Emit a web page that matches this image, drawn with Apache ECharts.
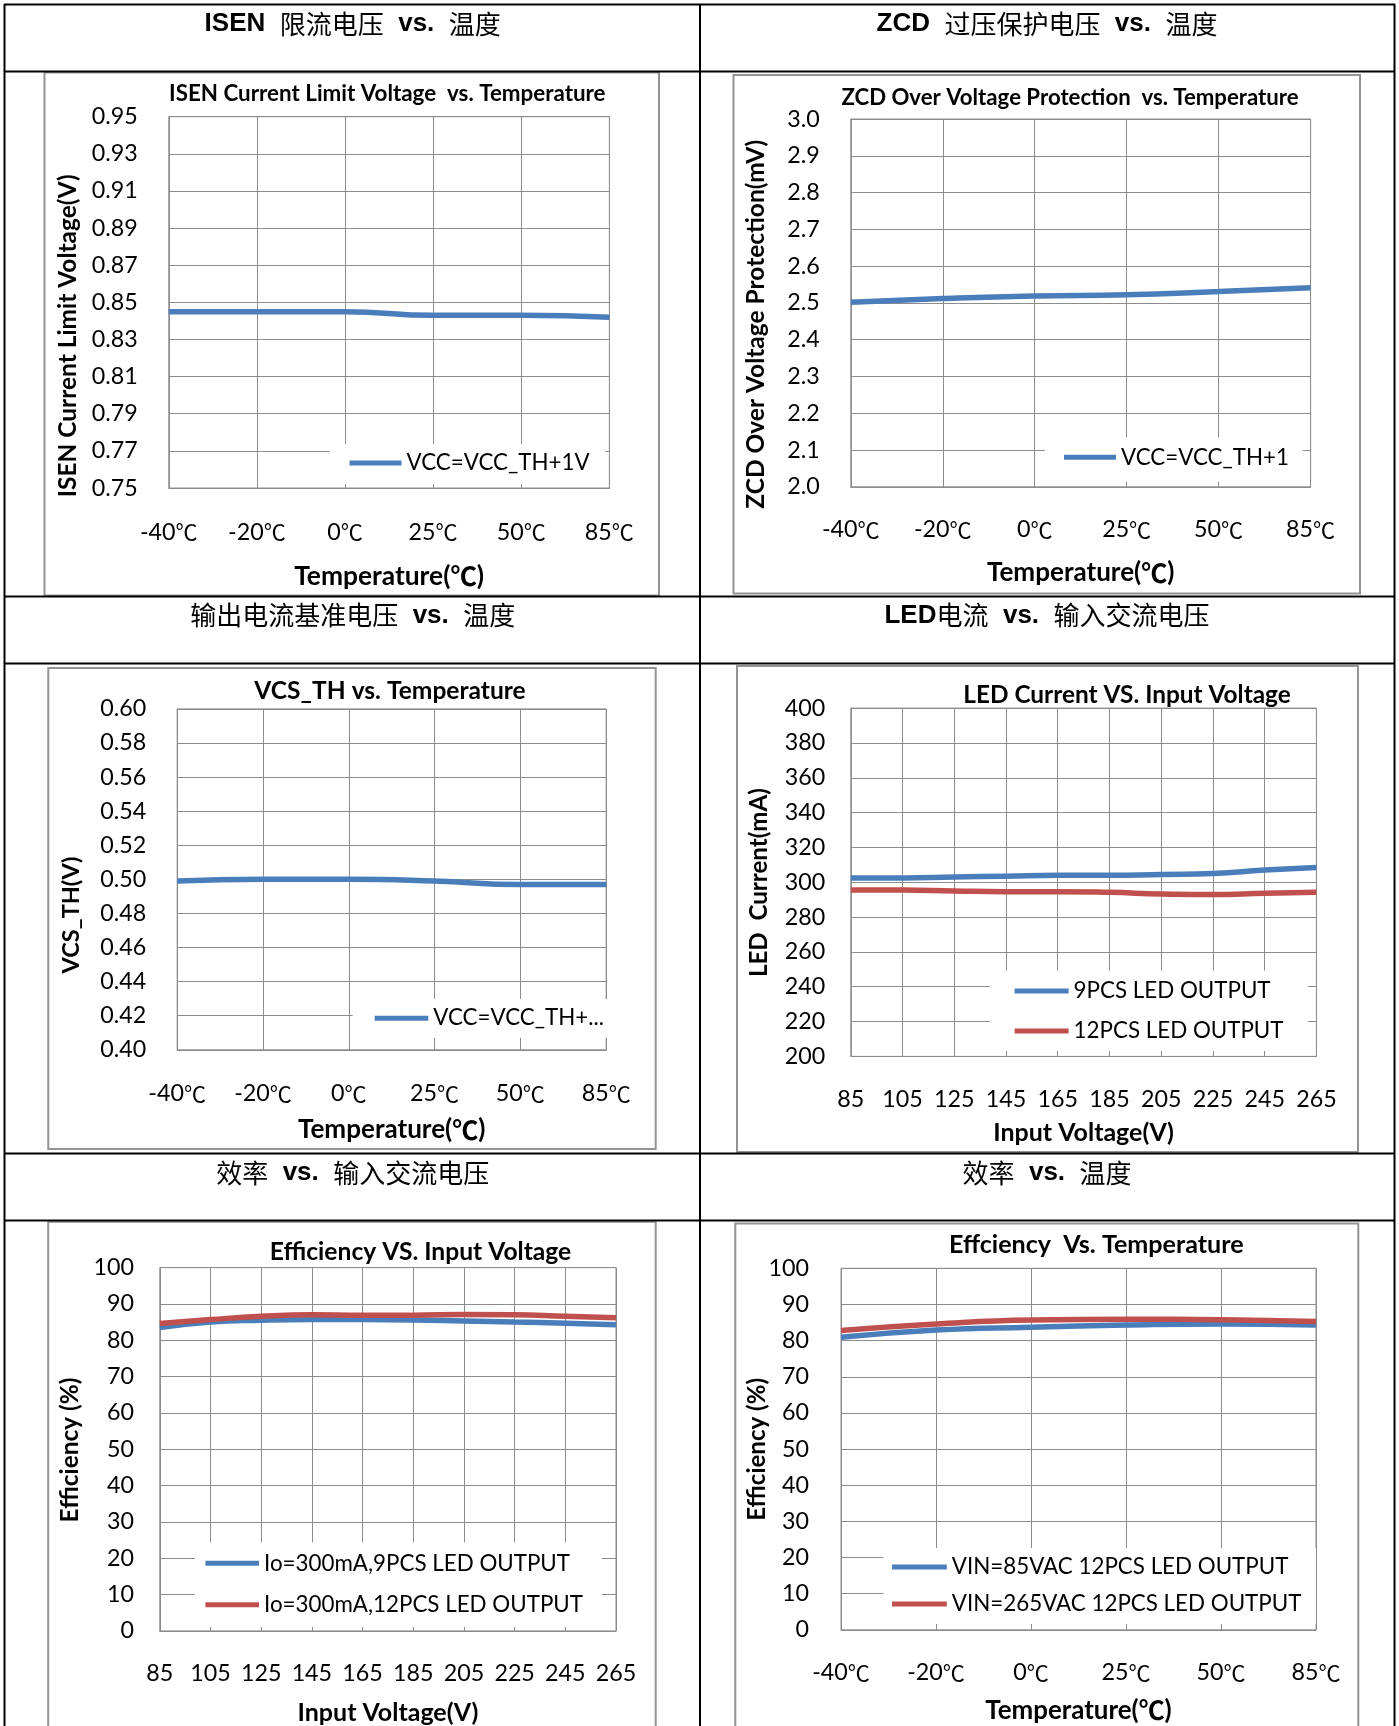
<!DOCTYPE html>
<html><head><meta charset="utf-8">
<script src="https://cdn.jsdelivr.net/npm/echarts@6/dist/echarts.min.js"></script>
<style>html,body{margin:0;padding:0;background:#fff}#c{width:1399px;height:1726px}</style>
</head><body><div id="c"></div>
<script>
// ---------- data ----------
const tempCats = ['-40℃', '-20℃', '0℃', '25℃', '50℃', '85℃'];
const vinCats = ['85', '105', '125', '145', '165', '185', '205', '225', '245', '265'];
const isenVals = [0.845, 0.845, 0.845, 0.843, 0.843, 0.842];
const zcdVals = [2.502, 2.512, 2.519, 2.522, 2.531, 2.541];
const vcsVals = [0.499, 0.500, 0.500, 0.499, 0.497, 0.497];
const led9Vals = [302.5, 302.5, 303, 303.5, 304, 304, 304.5, 305, 307, 308.5];
const led12Vals = [295.6, 295.6, 295, 294.6, 294.6, 294.2, 293.3, 292.9, 293.7, 294.3];
const effVin9Vals = [83.5, 85, 85.5, 85.7, 85.7, 85.6, 85.3, 85, 84.7, 84.3];
const effVin12Vals = [84.6, 85.7, 86.6, 87, 86.9, 86.9, 87.1, 87, 86.6, 86.2];
const effT85Vals = [80.9, 82.9, 83.7, 84.3, 84.6, 84.3];
const effT265Vals = [82.8, 84.6, 85.7, 85.9, 85.8, 85.3];

// ---------- styling helpers ----------
const LF = 'Lato, "Noto Sans CJK SC", sans-serif';
const CJK = '"Noto Sans CJK SC", sans-serif';
const GRID = '#8c8c8c';
const BLUE = '#4a7ebb';
const RED = '#c0504d';
const cv = document.createElement('canvas').getContext('2d');
function fit(text, weight, target) {
  cv.font = weight + ' 100px ' + LF;
  return 100 * target / cv.measureText(text).width;
}
const tickFS = fit('0.95', 'normal', 46);
const legFS = fit('9PCS LED OUTPUT', 'normal', 197);

const grids = [
  [168.75, 116.7, 440.65, 371.3],
  [850.8, 119, 459.8, 367.8],
  [177.2, 708.9, 429, 340.9],
  [850.8, 708.1, 465.6, 348.3],
  [159.8, 1267.6, 456.2, 364.8],
  [841, 1268.3, 475, 361.5]
];

function degFmt(v) {
  if (v.indexOf('℃') < 0) return '{n|' + v + '}';
  return '{n|' + v.replace('℃', '') + '}{d|℃}';
}
function xAx(gi, data, margin, name, nameCenter, nameW) {
  const nfs = fit(name, 'bold', nameW);
  const richName = name.indexOf('℃') >= 0 ? name.replace('℃', '{d|℃}') : name;
  return {
    type: 'category', gridIndex: gi, data: data, boundaryGap: false,
    axisLine: {show: true, lineStyle: {color: GRID, width: 1}},
    axisTick: {show: false},
    axisLabel: {interval: 0, margin: margin, color: '#000', fontFamily: LF, fontSize: tickFS, lineHeight: 24,
      formatter: degFmt,
      rich: {n: {fontFamily: LF, fontSize: tickFS, color: '#000', lineHeight: 24},
             d: {fontFamily: CJK, fontSize: tickFS * 0.95, color: '#000', lineHeight: 24}}},
    splitLine: {show: true, lineStyle: {color: GRID, width: 1}},
    name: richName, nameLocation: 'middle', nameGap: nameCenter - 12,
    nameTextStyle: {fontFamily: LF, fontWeight: 'bold', fontSize: nfs, lineHeight: 24, color: '#000',
      rich: {d: {fontFamily: CJK, fontWeight: 'bold', fontSize: nfs, lineHeight: 24, color: '#000'}}}
  };
}
function yAx(gi, min, max, interval, dec, margin) {
  return {
    type: 'value', gridIndex: gi, min: min, max: max, interval: interval,
    axisLine: {show: true, lineStyle: {color: GRID, width: 1}},
    axisTick: {show: false},
    axisLabel: {margin: margin, color: '#000', fontFamily: LF, fontSize: tickFS, formatter: v => v.toFixed(dec)},
    splitLine: {show: true, lineStyle: {color: GRID, width: 1}}
  };
}
function ser(name, gi, data, color) {
  return {type: 'line', name: name, xAxisIndex: gi, yAxisIndex: gi, data: data, smooth: true,
    symbol: 'none', lineStyle: {width: 5.5, color: color}, itemStyle: {color: color}, z: 3};
}
function leg(left, top, w, pl, pt, pb, gap, itemW, names) {
  const pr = 4;
  return {
    show: true, orient: 'vertical', left: left, top: top, padding: [pt, pr, pb, pl],
    itemGap: gap, itemWidth: itemW, itemHeight: 5, icon: 'rect', backgroundColor: '#fff',
    selectedMode: false, data: names, z: 5,
    textStyle: {fontFamily: LF, fontSize: legFS, lineHeight: 24, color: '#000', width: w - pl - itemW - 5 - pr}
  };
}

// ---------- graphic (table, boxes, titles) ----------
const g = [];
[4.5, 71.5, 596.5, 663.5, 1153.5, 1220.5].forEach(y => g.push({type: 'line', shape: {x1: 4, y1: y, x2: 1395, y2: y}, style: {stroke: '#000', lineWidth: 2}, z: 10}));
[4.5, 700, 1394.5].forEach(x => g.push({type: 'line', shape: {x1: x, y1: 4, x2: x, y2: 1730}, style: {stroke: '#000', lineWidth: 2}, z: 10}));
[[44.5, 72.5, 614.5, 523], [733.5, 75, 626.5, 518.5], [48.3, 668, 607.4, 481],
 [737, 666, 621, 486], [48.2, 1221.8, 607.5, 520], [735.3, 1223.5, 623, 520]].forEach(b =>
  g.push({type: 'rect', shape: {x: b[0], y: b[1], width: b[2], height: b[3]}, style: {fill: 'none', stroke: '#939393', lineWidth: 2}, z: 1}));

const richH = {
  b: {fontFamily: '"Liberation Sans", Arial, sans-serif', fontWeight: 'bold', fontSize: 26, fill: '#000'},
  c: {fontFamily: CJK, fontWeight: 'normal', fontSize: 26, fill: '#000'}
};
function header(x, y, text) {
  g.push({type: 'text', x: x, y: y, z: 10, style: {text: text, rich: richH, fill: '#000',
    textAlign: 'center', align: 'center', textVerticalAlign: 'middle', verticalAlign: 'middle'}});
}
header(352.7, 24, '{b|ISEN  }{c|限流电压}{b|  vs.  }{c|温度}');
header(1047, 24, '{b|ZCD  }{c|过压保护电压}{b|  vs.  }{c|温度}');
header(352.7, 615.5, '{c|输出电流基准电压}{b|  vs.  }{c|温度}');
header(1047, 615.5, '{b|LED}{c|电流}{b|  vs.  }{c|输入交流电压}');
header(352.7, 1173, '{c|效率}{b|  vs.  }{c|输入交流电压}');
header(1047, 1173, '{c|效率}{b|  vs.  }{c|温度}');

function txt(x, y, text, target, rot) {
  const fs = fit(text, 'bold', target);
  g.push({type: 'text', x: x, y: y, rotation: rot ? Math.PI / 2 : 0, z: 10,
    style: {text: text, fontFamily: LF, fontWeight: 'bold', fontSize: fs, fill: '#000',
      textAlign: 'center', align: 'center', textVerticalAlign: 'middle', verticalAlign: 'middle'}});
}
// chart titles
txt(387.3, 94, 'ISEN Current Limit Voltage  vs. Temperature', 437);
txt(1070, 97.6, 'ZCD Over Voltage Protection  vs. Temperature', 457.7);
txt(390, 691, 'VCS_TH vs. Temperature', 271.4);
txt(1127, 695.4, 'LED Current VS. Input Voltage', 327.7);
txt(420.5, 1252.1, 'Efficiency VS. Input Voltage', 301.8);
txt(1096.3, 1244.8, 'Effciency  Vs. Temperature', 294.6);
// y-axis titles
txt(67.9, 335.8, 'ISEN Current Limit Voltage(V)', 323, true);
txt(756, 324.3, 'ZCD Over Voltage Protection(mV)', 369, true);
txt(71.4, 915, 'VCS_TH(V)', 117, true);
txt(759.3, 882.6, 'LED  Current(mA)', 189, true);
txt(70.5, 1450, 'Efficiency (%)', 145, true);
txt(757, 1449.4, 'Efficiency (%)', 143, true);

const option = {
  animation: false,
  backgroundColor: '#fff',
  grid: grids.map(q => ({left: q[0], top: q[1], width: q[2], height: q[3], show: true, borderColor: GRID, borderWidth: 1})),
  xAxis: [
    xAx(0, tempCats, 32, 'Temperature(℃)', 88, 190),
    xAx(1, tempCats, 31, 'Temperature(℃)', 86, 187.5),
    xAx(2, tempCats, 31.6, 'Temperature(℃)', 80, 187.5),
    xAx(3, vinCats, 30.6, 'Input Voltage(V)', 77, 180.8),
    xAx(4, vinCats, 31, 'Input Voltage(V)', 81.6, 180.8),
    xAx(5, tempCats, 30.6, 'Temperature(℃)', 80.5, 186.6)
  ],
  yAxis: [
    yAx(0, 0.75, 0.95, 0.02, 2, 31),
    yAx(1, 2.0, 3.0, 0.1, 1, 31),
    yAx(2, 0.40, 0.60, 0.02, 2, 31),
    yAx(3, 200, 400, 20, 0, 25.5),
    yAx(4, 0, 100, 10, 0, 25.8),
    yAx(5, 0, 100, 10, 0, 32)
  ],
  legend: [
    leg(329.5, 444, 275.5, 20, 7, 9, 10, 52, ['VCC=VCC_TH+1V']),
    leg(1045, 437.4, 257.6, 19, 7.9, 12.1, 10, 52, ['VCC=VCC_TH+1']),
    leg(352.7, 999, 253.3, 22, 7.2, 7.6, 10, 53.6, ['VCC=VCC_TH+...']),
    leg(990, 970.6, 318, 24.6, 8.4, 8, 16, 54, ['9PCS LED OUTPUT', '12PCS LED OUTPUT']),
    leg(195, 1542.4, 406.8, 10.4, 8.9, 10.1, 17.5, 53.6, ['Io=300mA,9PCS LED OUTPUT', 'Io=300mA,12PCS LED OUTPUT']),
    leg(883.4, 1547.9, 432.6, 8.6, 7.1, 7.9, 13, 54.8, ['VIN=85VAC 12PCS LED OUTPUT', 'VIN=265VAC 12PCS LED OUTPUT'])
  ],
  series: [
    ser('VCC=VCC_TH+1V', 0, isenVals, BLUE),
    ser('VCC=VCC_TH+1', 1, zcdVals, BLUE),
    ser('VCC=VCC_TH+...', 2, vcsVals, BLUE),
    ser('9PCS LED OUTPUT', 3, led9Vals, BLUE),
    ser('12PCS LED OUTPUT', 3, led12Vals, RED),
    ser('Io=300mA,9PCS LED OUTPUT', 4, effVin9Vals, BLUE),
    ser('Io=300mA,12PCS LED OUTPUT', 4, effVin12Vals, RED),
    ser('VIN=85VAC 12PCS LED OUTPUT', 5, effT85Vals, BLUE),
    ser('VIN=265VAC 12PCS LED OUTPUT', 5, effT265Vals, RED)
  ],
  graphic: g
};
const chart = echarts.init(document.getElementById('c'), null, {renderer: 'canvas'});
chart.setOption(option);
</script>
</body></html>
